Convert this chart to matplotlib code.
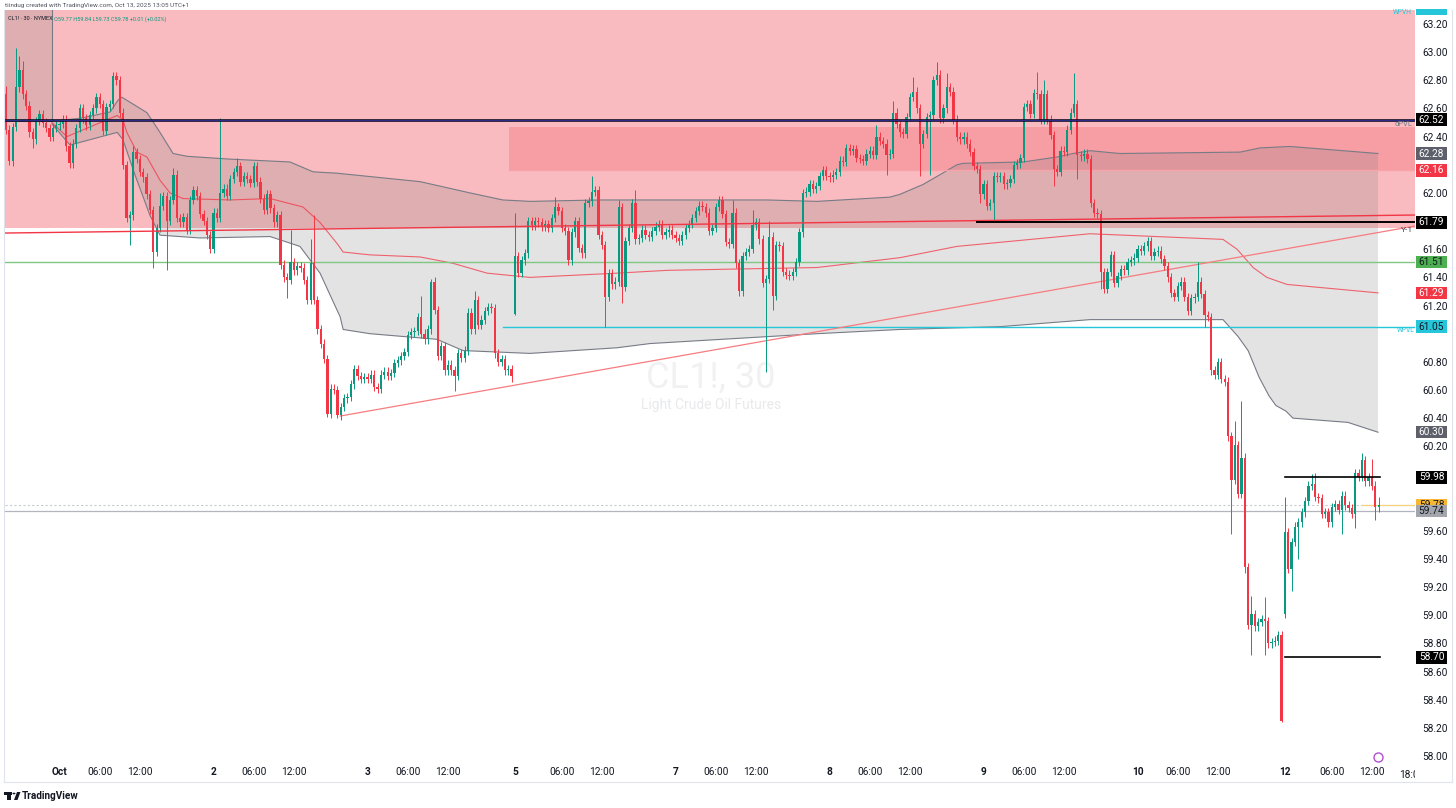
import numpy as np
import matplotlib
matplotlib.use("Agg")
import matplotlib.pyplot as plt
import matplotlib.transforms as mtransforms
from matplotlib.patches import Rectangle, Polygon, Circle
from matplotlib.lines import Line2D

plt.rcParams['font.family'] = ['Roboto', 'DejaVu Sans']

# ---------------- data (30-min bars, index 0 = first visible bar) ----------------
closes_s1 = [62.45, 62.23, 62.47, 62.75, 62.87, 62.70, 62.62, 62.43, 62.38, 62.51,
             62.56, 62.50, 62.46, 62.40, 62.46, 62.48, 62.49, 62.52, 62.33, 62.21,
             62.35, 62.46, 62.60, 62.53, 62.48, 62.55, 62.60, 62.68, 62.63, 62.44,
             62.61, 62.63, 62.83, 62.80, 62.57, 62.20, 61.82, 61.84, 62.29, 62.24,
             62.15, 62.11, 61.99, 61.88, 61.58, 61.75, 61.91, 61.98, 61.80, 61.95,
             62.13, 61.82, 61.79, 61.83, 61.74, 61.95, 62.02, 61.98, 61.85, 61.80,
             61.70, 61.60, 61.86, 61.82, 62.00, 62.03, 61.98, 62.10, 62.15, 62.19,
             62.08, 62.12, 62.10, 62.07, 62.19, 62.08, 61.96, 61.88, 61.99, 61.89,
             61.79, 61.84, 61.49, 61.40]
closes_s2 = [61.38, 61.51, 61.45, 61.48, 61.47, 61.38, 61.24, 61.50, 61.24, 61.03,
             60.93, 60.82, 60.43, 60.61, 60.60, 60.42, 60.48, 60.54, 60.55, 60.64,
             60.75, 60.70, 60.68, 60.69, 60.68, 60.71, 60.62, 60.61, 60.71, 60.73,
             60.70, 60.72, 60.79, 60.81, 60.84, 60.87, 60.99, 61.01, 61.02, 61.12,
             61.00, 60.96, 61.03, 61.37, 61.17, 60.84, 60.91, 60.74, 60.78, 60.74,
             60.70, 60.86, 60.83, 60.88, 61.15, 61.03, 61.24, 61.06, 61.10, 61.16,
             61.19, 61.18, 60.86, 60.80, 60.82, 60.74, 60.75, 60.70]
closes_s3 = [61.55, 61.43, 61.52, 61.57, 61.80, 61.77, 61.80, 61.79, 61.76, 61.78,
             61.75, 61.82, 61.90, 61.87, 61.75, 61.73, 61.52, 61.72, 61.80, 61.61,
             61.57, 61.93, 61.94, 62.01, 62.02, 61.70, 61.63, 61.26, 61.43, 61.35,
             61.37, 61.90, 61.33, 61.66, 61.75, 61.93, 61.67, 61.68, 61.74, 61.70,
             61.69, 61.73, 61.76, 61.78, 61.70, 61.72, 61.74, 61.70, 61.68, 61.66,
             61.70, 61.75, 61.78, 61.82, 61.87, 61.91, 61.90, 61.86, 61.73, 61.75,
             61.90, 61.95, 61.85, 61.65, 61.64, 61.86, 61.50, 61.30, 61.55, 61.58,
             61.60, 61.77, 61.79, 61.67, 61.36, 61.39, 61.69, 61.27, 61.63, 61.62,
             61.44, 61.42, 61.41, 61.44, 61.51, 61.72]
closes_s4 = [62.00, 62.01, 62.06, 62.03, 62.05, 62.12, 62.16, 62.12, 62.11, 62.13,
             62.15, 62.23, 62.22, 62.32, 62.30, 62.31, 62.25, 62.24, 62.23, 62.28,
             62.30, 62.27, 62.40, 62.37, 62.35, 62.27, 62.28, 62.57, 62.49, 62.43,
             62.42, 62.54, 62.68, 62.72, 62.60, 62.35, 62.42, 62.54, 62.55, 62.80,
             62.84, 62.53, 62.60, 62.75, 62.72, 62.52, 62.40, 62.38, 62.40, 62.35,
             62.29, 62.19, 62.17, 61.99, 62.06, 61.91, 61.93, 62.12, 62.11, 62.12,
             62.06, 62.07, 62.10, 62.20, 62.21, 62.25, 62.61, 62.63, 62.56, 62.71,
             62.70, 62.52, 62.70, 62.52, 62.41, 62.17, 62.15, 62.30, 62.29, 62.45,
             62.57, 62.63, 62.27, 62.26, 62.28, 62.24, 61.93, 61.86, 61.85]
closes_s5 = [61.44, 61.32, 61.44, 61.56, 61.36, 61.41, 61.46, 61.45, 61.51, 61.52,
             61.54, 61.60, 61.59, 61.62, 61.66, 61.55, 61.58, 61.59, 61.53, 61.48,
             61.40, 61.29, 61.26, 61.34, 61.37, 61.26, 61.16, 61.25, 61.26, 61.37,
             61.28, 61.13, 61.12, 60.74, 60.71, 60.80, 60.68, 60.66, 60.27, 59.96,
             60.21, 59.86, 60.12, 59.34, 58.93, 59.01, 58.92, 58.95, 58.97, 58.96,
             58.80, 58.81, 58.82, 58.86, 58.25]
closes_s6 = [59.59, 59.33, 59.52, 59.63, 59.66, 59.73, 59.81, 59.92, 59.93, 59.84,
             59.83, 59.72, 59.73, 59.66, 59.77, 59.79, 59.75, 59.85, 59.78, 59.76,
             59.72, 60.01, 59.98, 60.10, 59.95, 59.98, 59.92, 59.77, 59.78]

first_open = 62.70
gap_opens = {152: 61.14, 382: 59.01}          # weekend gaps
highs_read = {0: 62.76, 3: 63.03, 4: 62.97, 5: 62.94, 32: 62.86, 33: 62.86, 38: 62.33,
              46: 62.00, 50: 62.18, 64: 62.53, 69: 62.25, 85: 61.74, 91: 61.67, 92: 61.84,
              124: 61.27, 127: 61.39, 140: 61.30, 152: 61.86, 164: 61.97, 175: 62.12,
              183: 61.95, 188: 62.02, 217: 61.95, 223: 61.88, 228: 61.80, 260: 62.48,
              265: 62.65, 271: 62.82, 278: 62.93, 281: 62.85, 308: 62.86, 310: 62.80,
              319: 62.85, 356: 61.51, 367: 60.38, 369: 60.52, 372: 59.14, 376: 59.13,
              382: 59.84, 390: 60.00, 391: 60.01, 405: 60.15, 408: 60.11, 410: 59.84}
lows_read = {1: 62.20, 2: 62.19, 8: 62.32, 37: 61.63, 44: 61.47, 48: 61.45, 84: 61.25,
             96: 60.41, 99: 60.40, 134: 60.59, 151: 60.66, 152: 61.13, 179: 61.05,
             184: 61.22, 219: 61.27, 227: 60.73, 229: 61.17, 263: 62.13, 273: 62.12,
             276: 62.13, 291: 61.93, 295: 61.80, 313: 62.05, 320: 62.10, 327: 61.32,
             358: 61.05, 366: 59.58, 370: 59.30, 371: 58.90, 372: 58.72, 376: 58.72,
             381: 58.24, 384: 59.17, 386: 59.40, 399: 59.58, 403: 59.62, 409: 59.68,
             410: 59.73}
wick_default = 0.03

# monthly anchored VWAP and bands, read at bar positions
upper_k = [13.7, 22.1, 31.1, 33.5, 34.6, 42.1, 46.0, 49.9, 54.1, 66.9, 84.8, 91.7, 98.9,
           123.7, 138.6, 148.4, 156.5, 177.4, 227.3, 242.2, 264.0, 267.0, 273.9, 279.0,
           284.0, 285.8, 303.8, 313.9, 318.7, 323.8, 332.7, 368.6, 374.6, 383.5, 409.8]
upper_v = [62.51, 62.53, 62.575, 62.66, 62.68, 62.57, 62.43, 62.28, 62.26, 62.24, 62.22,
           62.15, 62.14, 62.08, 62.00, 61.95, 61.94, 61.95, 61.95, 61.94, 61.97, 61.99,
           62.06, 62.13, 62.20, 62.21, 62.22, 62.255, 62.28, 62.30, 62.28, 62.29, 62.32,
           62.33, 62.28]
lower_k = [13.7, 19.1, 33.2, 34.9, 38.5, 43.0, 46.0, 57.9, 78.9, 87.8, 93.8, 99.8, 100.7,
           108.7, 128.7, 136.5, 156.5, 182.5, 192.4, 242.2, 267.0, 296.9, 323.8, 363.5,
           368.0, 371.0, 374.3, 377.2, 379.3, 382.3, 384.4, 400.8, 409.8]
lower_v = [62.49, 62.34, 62.43, 62.38, 62.13, 61.84, 61.70, 61.68, 61.69, 61.62, 61.43,
           61.12, 61.03, 61.00, 60.96, 60.88, 60.86, 60.90, 60.93, 61.00, 61.03, 61.05,
           61.10, 61.10, 60.98, 60.88, 60.69, 60.56, 60.49, 60.45, 60.40, 60.37, 60.30]
vwap_k = [13.7, 18.2, 33.2, 34.9, 36.1, 39.1, 42.1, 46.0, 49.0, 52.9, 66.9, 78.9, 88.7,
          93.8, 98.9, 100.7, 108.7, 123.7, 133.5, 143.7, 156.5, 182.5, 197.4, 242.2,
          267.0, 284.0, 323.8, 363.5, 367.7, 372.5, 376.6, 382.6, 409.8]
vwap_v = [62.50, 62.40, 62.55, 62.52, 62.43, 62.29, 62.255, 62.09, 62.00, 61.96, 61.95,
          61.96, 61.90, 61.79, 61.64, 61.58, 61.56, 61.545, 61.50, 61.43, 61.40, 61.43,
          61.45, 61.47, 61.54, 61.62, 61.71, 61.67, 61.60, 61.47, 61.40, 61.35, 61.29]
prev_band_lower = 62.51
prev_band_end = 13.7

# drawn levels / zones
zone_bottom = 61.75
box_k0, box_lo, box_hi = 150.2, 62.16, 62.47
navy_level = 62.52
red_ray = ((-0.3, 61.715), (420.85, 61.843))
y1_level, y1_start = 61.79, 290
green_level = 61.51
wpvl_level, wpvl_start = 61.05, 148.4
trend_pts = ((99.8, 60.415), (420.85, 61.765))
short_levels = [59.98, 58.70]
short_k = (382, 410.4)
last_price = 59.78
gray_level = 59.74

tag_prices = [62.52, 62.28, 62.16, 61.79, 61.51, 61.29, 61.05, 60.30, 59.98, 59.78, 59.74, 58.70]
tag_fc = ['#000000', '#5d606b', '#f23645', '#000000', '#4caf50', '#f23645', '#26c6da',
          '#5d606b', '#000000', '#f7b733', '#a3a6ad', '#000000']
tag_tc = ['white', 'white', 'white', 'white', '#131722', 'white', '#131722',
          'white', 'white', '#131722', '#131722', 'white']

tick_pos = [16, 28, 40, 62, 74, 86, 108, 120, 132, 152, 166, 178, 200, 212, 224,
            246, 258, 270, 292, 304, 316, 338, 350, 362, 382, 396, 408]
tick_lab = ['Oct', '06:00', '12:00', '2', '06:00', '12:00', '3', '06:00', '12:00',
            '5', '06:00', '12:00', '7', '06:00', '12:00', '8', '06:00', '12:00',
            '9', '06:00', '12:00', '10', '06:00', '12:00', '12', '06:00', '12:00']
day_labels = {'Oct', '2', '3', '5', '7', '8', '9', '10', '12'}

# ---------------- build OHLC ----------------
closes = np.array(closes_s1 + closes_s2 + closes_s3 + closes_s4 + closes_s5 + closes_s6)
n = len(closes)
opens = np.empty(n)
opens[0] = first_open
opens[1:] = closes[:-1]
for k, v in gap_opens.items():
    opens[k] = v
highs = np.array([max(highs_read.get(k, max(opens[k], closes[k]) + wick_default),
                      opens[k], closes[k]) for k in range(n)])
lows = np.array([min(lows_read.get(k, min(opens[k], closes[k]) - wick_default),
                     opens[k], closes[k]) for k in range(n)])
idx = np.arange(n)

# ---------------- figure ----------------
W, H = 1456, 808
fig = plt.figure(figsize=(W / 100, H / 100), dpi=100)
L, R, T, B = 5, 1415, 10, 760
ax = fig.add_axes([L / W, 1 - B / H, (R - L) / W, (B - T) / H])
ppu = 140.77
ax.set_ylim(58.0 - (B - 756) / ppu, 63.2 + (24 - T) / ppu)
xl = (-0.3, (R - 6) / 3.348)
ax.set_xlim(*xl)
for s in ax.spines.values():
    s.set_visible(False)

GREEN, RED = '#089981', '#f23645'

# zones
ax.add_patch(Rectangle((xl[0], zone_bottom), xl[1] - xl[0], 3, color='#f9bbbf', zorder=0.5, lw=0))
ax.add_patch(Rectangle((box_k0, box_lo), xl[1] - box_k0, box_hi - box_lo, color='#f23645',
                       alpha=0.22, zorder=0.6, lw=0))
# previous period band
ax.add_patch(Polygon([(xl[0], prev_band_lower), (prev_band_end, prev_band_lower),
                      (prev_band_end, 64), (xl[0], 64)], closed=True, color='#808080',
                     alpha=0.22, lw=0, zorder=0.7))
ax.plot([xl[0], prev_band_end, prev_band_end], [prev_band_lower, prev_band_lower, 64],
        color='#787b86', lw=0.8, zorder=1)
# current band
poly = list(zip(upper_k, upper_v)) + list(zip(lower_k[::-1], lower_v[::-1]))
ax.add_patch(Polygon(poly, closed=True, color='#808080', alpha=0.22, lw=0, zorder=0.7))
ax.plot(upper_k, upper_v, color='#787b86', lw=0.8, zorder=1)
ax.plot(lower_k, lower_v, color='#787b86', lw=0.8, zorder=1)
ax.plot(vwap_k, vwap_v, color='#f23645', lw=0.8, alpha=0.75, zorder=1)

# watermark
ax.text(210.6, 60.69, 'CL1!, 30', fontsize=26, color='#787b86', alpha=0.1,
        ha='center', va='center', zorder=0.8)
ax.text(210.6, 60.49, 'Light Crude Oil Futures', fontsize=10, color='#787b86', alpha=0.16,
        ha='center', va='center', zorder=0.8)

# reference lines
ax.plot([xl[0], xl[1]], [last_price, last_price], color='#c8cad0', lw=0.8,
        ls=(0, (2, 2)), zorder=1.2)
ax.plot([xl[0], xl[1]], [gray_level, gray_level], color='#b2b5be', lw=0.9, zorder=1.2)
ax.plot([405, xl[1]], [last_price, last_price], color='#f7d27a', lw=0.9, zorder=1.2)
ax.plot([xl[0], xl[1]], [green_level, green_level], color='#81c784', lw=1.0, zorder=1.3)
ax.plot([wpvl_start, xl[1]], [wpvl_level, wpvl_level], color='#26c6da', lw=1.0, zorder=1.3)
ax.plot([box_k0, xl[1]], [box_lo, box_lo], color='#f7a3a8', lw=1.0, zorder=1.3)
ax.plot([p[0] for p in trend_pts], [p[1] for p in trend_pts], color='#f77c80', lw=0.9, zorder=1.3)

# candles
up = closes >= opens
col = np.where(up, GREEN, RED)
ax.vlines(idx, lows, highs, colors=col, lw=0.7, zorder=3)
body = closes - opens
body = np.where(np.abs(body) < 0.008, np.where(up, 0.008, -0.008), body)
ax.bar(idx, body, bottom=opens, width=0.68, color=col, lw=0, zorder=3.1)

# drawings above candles
ax.plot([xl[0], xl[1]], [navy_level, navy_level], color='#000000', lw=1.8, zorder=4)
ax.plot([xl[0], xl[1]], [navy_level, navy_level], color='#2e2a8c', lw=1.0, zorder=4.1)
ax.plot([red_ray[0][0], red_ray[1][0]], [red_ray[0][1], red_ray[1][1]], color=RED, lw=1.0, zorder=4)
ax.plot([y1_start, xl[1]], [y1_level, y1_level], color='#000000', lw=1.4, zorder=4)
for lv in short_levels:
    ax.plot(short_k, [lv, lv], color='#000000', lw=1.2, zorder=4)

# small level texts
ax.text(417.5, 62.49, 'dPVL', fontsize=5.5, color='#787b86', ha='center', va='center', zorder=5)
ax.text(418.5, 61.735, 'Y-1', fontsize=6, color='#434651', ha='center', va='center', zorder=5)
ax.text(418.0, 61.02, 'WPVL', fontsize=4.8, color='#26c6da', ha='center', va='center', zorder=5)
ax.text(417.0, 63.28, 'WPVH', fontsize=4.8, color='#26c6da', ha='center', va='center', zorder=5)

# alert icon
ax.plot([409.8], [57.99], marker='o', ms=6.5, mfc='white', mec='#b44fd1', mew=1.0,
        zorder=6, clip_on=False)

# ---------------- axes ticks ----------------
ax.yaxis.tick_right()
yt = np.round(np.arange(58.0, 63.201, 0.2), 2)
ax.set_yticks(yt)
# axis numbers covered by a price tag are hidden, as on the platform
ax.set_yticklabels(['' if min(abs(v - p) for p in tag_prices) < 0.075 else f'{v:.2f}'
                    for v in yt])
ax.tick_params(axis='y', length=0, pad=5, labelsize=7.3, labelcolor='#131722')
ax.set_xticks(tick_pos)
ax.set_xticklabels(tick_lab)
ax.tick_params(axis='x', length=0, pad=4.8, labelsize=7.3, labelcolor='#131722')
for t in ax.get_xticklabels():
    if t.get_text() in day_labels:
        t.set_fontweight('bold')
clip_bb = mtransforms.TransformedBbox(mtransforms.Bbox([[0, -1], [1, 1]]), ax.transAxes)
t18 = ax.text(420, -0.0133, '18:00', transform=ax.get_xaxis_transform(), fontsize=7.3,
              color='#131722', ha='center', va='top', clip_on=True)
t18.set_clip_box(clip_bb)
t18.set_clip_path(None)

# price tags on axis
tb = mtransforms.blended_transform_factory(ax.transAxes, ax.transData)
tag_h = 12.5 / ppu
x0 = (1416 - L) / (R - L)
tw = 31 / (R - L)
for p, fc, tc in zip(tag_prices, tag_fc, tag_tc):
    ax.add_patch(Rectangle((x0, p - tag_h / 2), tw, tag_h, transform=tb, color=fc, lw=0,
                           clip_on=False, zorder=5))
    t = ax.text(x0 + tw / 2, p, f'{p:.2f}', transform=tb, color=tc, fontsize=7.3, ha='center',
                va='center', clip_on=False, zorder=6)
    if p == last_price:
        # partly hidden under the neighbouring tag: clip it to its visible strip
        vis = mtransforms.Bbox([[x0, gray_level + tag_h / 2], [x0 + tw, p + tag_h / 2]])
        t.set_clip_on(True)
        t.set_clip_box(mtransforms.TransformedBbox(vis, tb))
        t.set_clip_path(None)
ax.add_patch(Rectangle((x0, 63.2 + 9 / ppu), tw, 6 / ppu, transform=tb, color='#26c6da', lw=0,
                       clip_on=False, zorder=5))

# ---------------- frame / header ----------------
fig.add_artist(Line2D([4 / W, 1452 / W], [1 - 782 / H, 1 - 782 / H], color='#e0e3eb', lw=0.8))
fig.add_artist(Line2D([1452 / W, 1452 / W], [1 - 782 / H, 1 - 10 / H], color='#e0e3eb', lw=0.8))
fig.add_artist(Line2D([4 / W, 4 / W], [1 - 782 / H, 1 - 10 / H], color='#e0e3eb', lw=0.8))

fig.text(5 / W, 1 - 5.5 / H, 'tiindug created with TradingView.com, Oct 13, 2025 13:05 UTC+1',
         fontsize=4.6, color='#50535e', va='center', ha='left')
o_l, h_l, l_l, c_l, c_p = opens[-1], highs[-1], lows[-1], closes[-1], closes[-2]
fig.text(8 / W, 1 - 19 / H, 'CL1! · 30 · NYMEX', fontsize=4, color='#131722', va='center')
fig.text(54 / W, 1 - 19 / H,
         f'O{o_l:.2f} H{h_l:.2f} L{l_l:.2f} C{c_l:.2f} {c_l - c_p:+.2f} ({(c_l - c_p) / c_p * 100:+.2f}%)',
         fontsize=4, color=GREEN, va='center')

# TradingView logo
fig.add_artist(Rectangle((7 / W, 1 - 800 / H), 3.5 / W, 8 / H, color='#131722', lw=0))
fig.add_artist(Rectangle((4 / W, 1 - 795 / H), 8 / W, 3 / H, color='#131722', lw=0))
fig.add_artist(Circle((14 / W, 1 - 793.5 / H), 1.5 / W, color='#131722', lw=0))
fig.add_artist(Polygon([(14 / W, 1 - 800 / H), (17 / W, 1 - 792 / H), (20.5 / W, 1 - 792 / H),
                        (17.5 / W, 1 - 800 / H)], closed=True, color='#131722', lw=0))
fig.text(22 / W, 1 - 796 / H, 'TradingView', fontsize=7.2, fontweight='bold',
         color='#131722', va='center', ha='left')

fig.savefig('out.png', dpi=100)
